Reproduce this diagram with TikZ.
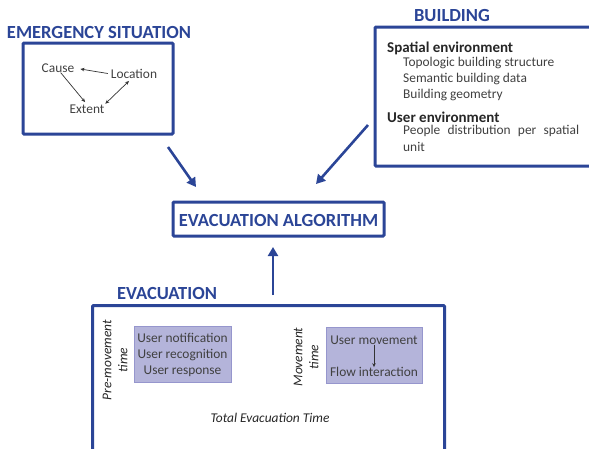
\documentclass[tikz,border=0pt]{standalone}
\usepackage{fontspec}
\setmainfont{Carlito}
\usetikzlibrary{arrows.meta}
\definecolor{dblue}{RGB}{43,69,151}
\definecolor{tgray}{RGB}{64,64,64}
\definecolor{lav}{RGB}{180,180,218}
\definecolor{lavb}{RGB}{150,150,205}
\tikzset{
  bigbox/.style={draw=dblue,line width=3pt,rounded corners=1pt,inner sep=0pt},
  title/.style={font=\fontsize{18.5}{22}\selectfont\bfseries,text=dblue,inner sep=0pt},
  txt/.style={font=\fontsize{13.4}{16}\selectfont,text=tgray,inner sep=0pt},
  btxt/.style={font=\fontsize{15}{18}\selectfont\bfseries,text=black!85,inner sep=0pt},
  itxt/.style={font=\fontsize{13.4}{16}\selectfont\itshape,text=black!85,inner sep=0pt},
  bigarrow/.style={draw=dblue,line width=2.6pt,-{Triangle[length=9pt,width=10pt]}},
  smallarrow/.style={draw=black!80,line width=0.7pt,-{Stealth[length=4pt,width=3.5pt]}},
  lavbox/.style={fill=lav,draw=lavb,line width=0.8pt,inner sep=0pt}
}
\begin{document}
\begin{tikzpicture}[x=1pt,y=-1pt]
\useasboundingbox (0,0) rectangle (589,448);
\clip (0,0) rectangle (589,448);
% ---------- Emergency situation
\node[title] (tes) at (99,32) {EMERGENCY SITUATION};
\node[bigbox,minimum width=150pt,minimum height=91pt] (es) at (98,88.5) {};
\node[txt] (cause) at (58,68) {Cause};
\node[txt] (loc) at (134,74) {Location};
\node[txt] (ext) at (87,109) {Extent};
\draw[smallarrow,shorten <=3pt,shorten >=6pt] (loc.west) -- (cause.east);
\draw[smallarrow,shorten >=3pt] (cause.300) -- (ext.north);
\draw[smallarrow,{Stealth[length=4pt,width=3.5pt]}-{Stealth[length=4pt,width=3.5pt]},shorten <=1pt,shorten >=3pt] (ext.north east) -- (loc.240);
% ---------- Building
\node[title] (tb) at (452,15) {BUILDING};
\node[bigbox,minimum width=230pt,minimum height=139pt] (bld) at (490,96.5) {};
\node[btxt,anchor=west] (spat) at (387,48) {Spatial environment};
\node[txt,anchor=west] (b1) at (403,63) {Topologic building structure};
\node[txt,anchor=west] (b2) at (403,79) {Semantic building data};
\node[txt,anchor=west] (b3) at (403,95) {Building geometry};
\node[btxt,anchor=west] (user) at (387,117) {User environment};
\node[txt,anchor=west] (b4) at (403,131) {\makebox[176pt][s]{People distribution per spatial}};
\node[txt,anchor=west] (b5) at (403,147) {unit};
% ---------- Algorithm
\node[bigbox,minimum width=211pt,minimum height=34pt] (alg) at (278.5,219) {};
\node[title] (talg) at (278.5,220) {EVACUATION ALGORITHM};
% ---------- Evacuation
\node[title] (tev) at (167,293) {EVACUATION};
\node[bigbox,minimum width=352pt,minimum height=170pt,anchor=north west] (ev) at (91,304) {};
\node[itxt,rotate=90,align=center] (pre) at (115,360) {Pre-movement\\time};
\node[lavbox,minimum width=97pt,minimum height=56pt] (pbox) at (182.5,354) {};
\node[txt,align=center] (ptxt) at (182.5,355) {User notification\\User recognition\\User response};
\node[itxt,rotate=90,align=center] (mov) at (306,357) {Movement\\time};
\node[lavbox,minimum width=96pt,minimum height=56pt] (mbox) at (374,355) {};
\node[txt] (um) at (374,340) {User movement};
\node[txt] (fi) at (374,372) {Flow interaction};
\draw[draw=black!80,line width=0.7pt,-{Stealth[length=4pt,width=3.5pt]}] (um.south) -- (fi.north);
\node[itxt] (tet) at (270,418) {Total Evacuation Time};
% ---------- Big arrows
\coordinate (e1) at (168,147);
\coordinate (e2) at (196,187);
\coordinate (b1s) at (368,125);
\coordinate (b1e) at (316,184);
\coordinate (u1) at (273,295);
\coordinate (u2) at (273,247);
\draw[bigarrow] (e1) -- (e2);
\draw[bigarrow] (b1s) -- (b1e);
\draw[bigarrow] (u1) -- (u2);
\end{tikzpicture}
\end{document}
